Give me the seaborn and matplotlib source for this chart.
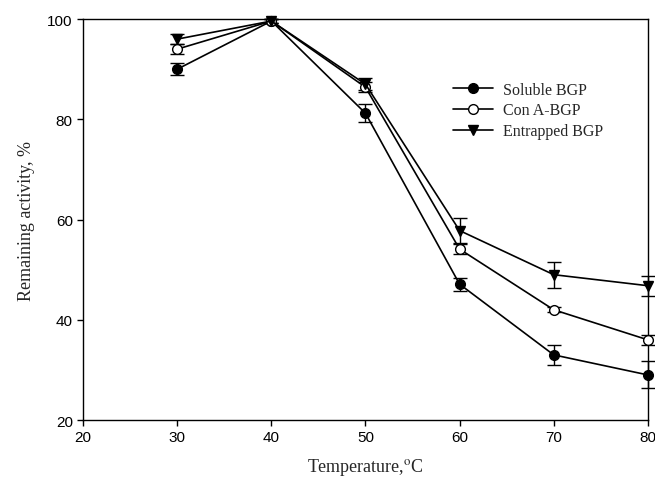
import numpy as np
import pandas as pd
import matplotlib
matplotlib.use("Agg")
import matplotlib.pyplot as plt
import seaborn as sns

temperature = [30, 40, 50, 60, 70, 80]
soluble = [90.0, 99.6, 81.2, 47.1, 33.0, 29.0]
soluble_err = [1.2, 0.4, 1.8, 1.3, 2.0, 2.7]
cona = [94.0, 99.6, 86.4, 54.1, 42.0, 36.0]
cona_err = [1.0, 0.4, 1.0, 1.0, 0.5, 1.0]
entrapped = [96.0, 99.6, 87.0, 57.8, 49.0, 46.8]
entrapped_err = [1.0, 0.4, 1.2, 2.5, 2.6, 2.0]
series_names = ["Soluble BGP", "Con A-BGP", "Entrapped BGP"]

sns.set_style("ticks")
plt.rcParams["font.family"] = ["Liberation Sans", "DejaVu Sans"]
plt.rcParams["mathtext.fontset"] = "stix"

df = pd.DataFrame({
    "Temperature": temperature * 3,
    "Activity": soluble + cona + entrapped,
    "Err": soluble_err + cona_err + entrapped_err,
    "Series": np.repeat(series_names, len(temperature)),
})

fig = plt.figure(figsize=(6.55, 4.89), dpi=100)
ax = fig.add_axes([0.127, 0.139, 0.862, 0.82])

styles = {
    "Soluble BGP": dict(marker="o", markerfacecolor="black"),
    "Con A-BGP": dict(marker="o", markerfacecolor="white"),
    "Entrapped BGP": dict(marker="v", markerfacecolor="black"),
}

for name in series_names:
    sub = df[df["Series"] == name]
    ax.errorbar(sub["Temperature"], sub["Activity"], yerr=sub["Err"], fmt="none",
                ecolor="black", elinewidth=1.0, capsize=5, capthick=1.0,
                zorder=2, clip_on=False)
    sns.lineplot(data=sub, x="Temperature", y="Activity", ax=ax, color="black",
                 linewidth=1.2, markersize=7, markeredgecolor="black",
                 markeredgewidth=1.0, label=name, zorder=3, clip_on=False,
                 **styles[name])

ax.set_xlim(20, 80)
ax.set_ylim(20, 100)
ax.set_xticks(range(20, 81, 10))
ax.set_yticks(range(20, 101, 20))
ax.tick_params(direction="out", length=4, width=1, labelsize=11, colors="black")
for s in ax.spines.values():
    s.set_color("black")
    s.set_linewidth(1.0)

ax.set_xlabel("Temperature,$^{\\rm o}$C", family="Liberation Serif", fontsize=13, labelpad=8)
ax.set_ylabel("Remaining activity, %", family="Liberation Serif", fontsize=13, labelpad=9)

ax.legend(loc="upper left", bbox_to_anchor=(0.63, 0.88), frameon=False,
          prop={"family": "Liberation Serif", "size": 11.5},
          handlelength=2.5, labelspacing=0.3, handletextpad=0.6)

fig.savefig("out.png", dpi=100)
